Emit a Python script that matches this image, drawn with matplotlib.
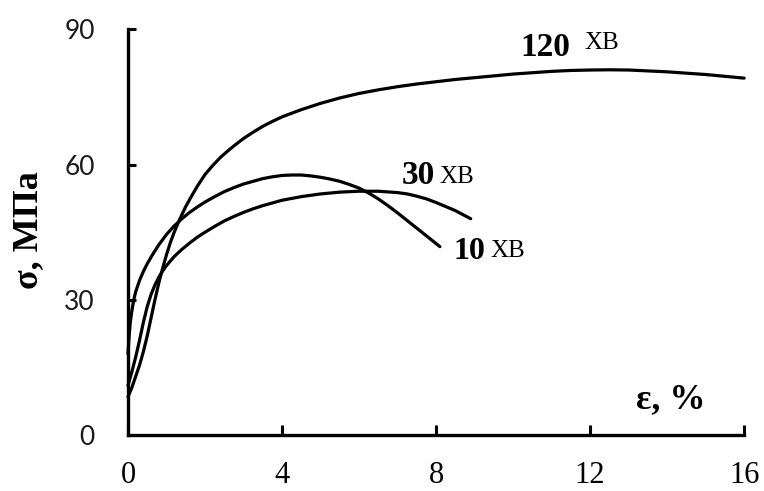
import matplotlib
matplotlib.use("Agg")
import matplotlib.pyplot as plt

# strain (%) / stress (MPa)
eps_120 = [0, 0.1, 0.2, 0.3, 0.4, 0.5, 0.6, 0.7, 0.8, 0.9, 1.0, 1.1, 1.2, 1.35, 1.5,
           1.65, 1.8, 2.0, 2.2, 2.4, 2.6, 2.8, 3.0, 3.25, 3.5, 3.75, 4.0, 4.5, 5.0,
           5.5, 6, 6.5, 7, 7.5, 8, 8.5, 9, 9.5, 10, 10.5, 11, 11.5, 12, 12.5, 13,
           13.5, 14, 14.5, 15, 15.5, 16]
sig_120 = [8.5, 10.5, 13, 15.5, 18.5, 22, 26, 30, 33.7, 37, 40, 42.7, 45, 48, 50.7,
           53, 55.2, 57.8, 59.8, 61.6, 63.1, 64.5, 65.8, 67.2, 68.5, 69.6, 70.6, 72.2, 73.6,
           74.8, 75.8, 76.6, 77.3, 77.9, 78.4, 78.9, 79.3, 79.7, 80.1, 80.4, 80.7, 80.9, 81.0, 81.05, 81.0,
           80.8, 80.6, 80.3, 80, 79.6, 79.2]

eps_30 = [0, 0.1, 0.2, 0.3, 0.4, 0.5, 0.6, 0.7, 0.8, 0.9, 1.0, 1.2, 1.4, 1.6, 1.8,
          2.0, 2.25, 2.5, 2.75, 3.0, 3.25, 3.5, 3.75, 4.0, 4.5, 5.0, 5.5, 6.0, 6.5,
          7.0, 7.25, 7.5, 7.75, 8.0, 8.25, 8.5, 8.7, 8.9]
sig_30 = [11, 14, 17.3, 21, 25, 28.5, 31.2, 33.3, 35, 36.4, 37.6, 39.6, 41.2, 42.6, 43.9,
          45, 46.3, 47.5, 48.5, 49.4, 50.2, 50.9, 51.5, 52.1, 52.9, 53.5, 53.9, 54.1, 54.1,
          53.8, 53.5, 53.0, 52.4, 51.6, 50.7, 49.8, 48.9, 48]

eps_10 = [0, 0.03, 0.06, 0.1, 0.15, 0.2, 0.3, 0.4, 0.5, 0.65, 0.8, 1.0, 1.2, 1.4, 1.6,
          1.8, 2.0, 2.25, 2.5, 2.75, 3.0, 3.25, 3.5, 3.75, 4.0, 4.25, 4.5, 4.75, 5.0,
          5.25, 5.5, 5.75, 6.0, 6.25, 6.5, 6.75, 7.0, 7.25, 7.5, 7.75, 8.1]
sig_10 = [18, 22, 25, 27.5, 30, 31.8, 34.3, 36.3, 38, 40.2, 42.2, 44.5, 46.4, 48, 49.4,
          50.6, 51.7, 52.9, 54, 54.9, 55.7, 56.3, 56.9, 57.3, 57.6, 57.7, 57.7, 57.5, 57.2,
          56.8, 56.3, 55.6, 54.8, 53.7, 52.4, 50.9, 49.3, 47.6, 45.9, 44.2, 41.8]

xticks = [0, 4, 8, 12, 16]
yticks = [0, 30, 60, 90]

serif = ["Liberation Serif", "DejaVu Serif"]
sans = ["Lato", "DejaVu Sans"]

fig = plt.figure(figsize=(7.64, 4.91), dpi=100)
ax = fig.add_axes([0.1675, 0.114, 0.8065, 0.826])

for e, s in [(eps_120, sig_120), (eps_30, sig_30), (eps_10, sig_10)]:
    ax.plot(e, s, color="black", lw=2.3, solid_joinstyle="round",
            solid_capstyle="round", clip_on=False)

ax.set_xlim(0, 16)
ax.set_ylim(0, 90)
ax.set_xticks(xticks)
ax.set_yticks(yticks)
ax.set_xticklabels([str(t) for t in xticks], family=serif, fontsize=22)
ax.set_yticklabels([str(t) for t in yticks], family=sans, fontsize=19,
                   color="#1a1a1a")
ax.tick_params(axis="x", direction="in", length=7, width=2.2, pad=19)
ax.tick_params(axis="y", direction="in", length=6, width=2.2, pad=24)

for side in ["top", "right"]:
    ax.spines[side].set_visible(False)
for side in ["left", "bottom"]:
    ax.spines[side].set_linewidth(2.4)

ax.set_ylabel("σ, МПа", family=serif, fontweight="bold", fontsize=26)
ax.yaxis.set_label_coords(-0.135, 0.505)
ax.text(13.2, 6, "ε, %", family=serif, fontweight="bold", fontsize=26)

# curve labels
ax.text(10.2, 84, "120", family=serif, fontweight="bold", fontsize=24)
ax.text(11.85, 85.6, "ХВ", family=serif, fontsize=18)
ax.text(7.12, 55.7, "30", family=serif, fontweight="bold", fontsize=24)
ax.text(8.1, 55.9, "ХВ", family=serif, fontsize=18)
ax.text(8.45, 39.0, "10", family=serif, fontweight="bold", fontsize=23)
ax.text(9.4, 39.6, "ХВ", family=serif, fontsize=18)

fig.savefig("out.png", dpi=100)
